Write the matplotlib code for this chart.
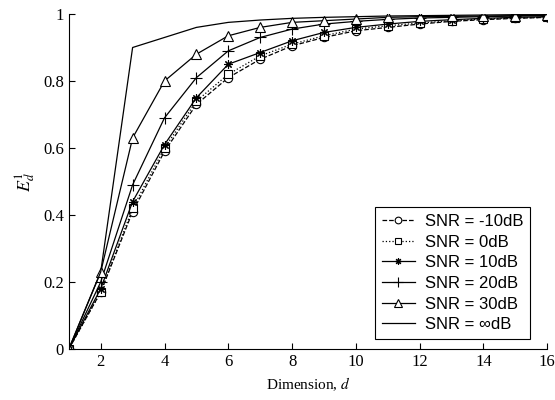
import numpy as np
import matplotlib.pyplot as plt

plt.rcParams['mathtext.fontset'] = 'stix'

# Dimension d
d = np.arange(1, 17)

# E_d^1 for each SNR
snr_m10 = [0.0, 0.17, 0.41, 0.59, 0.73, 0.81, 0.865, 0.905, 0.93, 0.95, 0.96, 0.97, 0.978, 0.983, 0.987, 0.99]
snr_0 = [0.0, 0.17, 0.42, 0.60, 0.74, 0.82, 0.875, 0.91, 0.935, 0.955, 0.965, 0.973, 0.98, 0.985, 0.988, 0.99]
snr_10 = [0.0, 0.18, 0.44, 0.61, 0.75, 0.85, 0.885, 0.92, 0.945, 0.96, 0.97, 0.978, 0.983, 0.987, 0.99, 0.992]
snr_20 = [0.0, 0.20, 0.49, 0.69, 0.81, 0.89, 0.93, 0.955, 0.97, 0.978, 0.984, 0.988, 0.99, 0.992, 0.994, 0.995]
snr_30 = [0.0, 0.23, 0.63, 0.80, 0.88, 0.935, 0.96, 0.975, 0.98, 0.985, 0.99, 0.992, 0.993, 0.994, 0.995, 0.996]
snr_inf = [0.0, 0.23, 0.90, 0.93, 0.96, 0.975, 0.982, 0.987, 0.99, 0.992, 0.994, 0.995, 0.996, 0.997, 0.998, 0.998]

labels = ['SNR = -10dB', 'SNR = 0dB', 'SNR = 10dB', 'SNR = 20dB', 'SNR = 30dB', 'SNR = \u221edB']

fig = plt.figure(figsize=(5.55, 4.0), dpi=100)
ax = fig.add_axes([0.124, 0.1275, 0.862, 0.8375])

lw = 0.9
ms = 6
ax.plot(d, snr_m10, '--', color='black', lw=lw, marker='o', ms=ms, mfc='white', mec='black', mew=0.8, label=labels[0])
ax.plot(d, snr_0, ':', color='black', lw=lw, marker='s', ms=ms, mfc='white', mec='black', mew=0.8, label=labels[1])
ax.plot(d, snr_10, '-', color='black', lw=lw, marker=(8, 2, 0), ms=ms, mec='black', mew=0.8, label=labels[2])
ax.plot(d, snr_20, '-', color='black', lw=lw, marker='+', ms=9, mec='black', mew=0.8, label=labels[3])
ax.plot(d, snr_30, '-', color='black', lw=lw, marker='^', ms=7, mfc='white', mec='black', mew=0.8, label=labels[4])
ax.plot(d, snr_inf, '-', color='black', lw=lw, label=labels[5])

ax.set_xlim(1, 16)
ax.set_ylim(0, 1)
ax.set_xticks([2, 4, 6, 8, 10, 12, 14, 16])
ax.set_yticks([0, 0.2, 0.4, 0.6, 0.8, 1])
ax.set_yticklabels(['0', '0.2', '0.4', '0.6', '0.8', '1'])
ax.tick_params(direction='in', length=4, width=0.8, labelsize=12)
for lab in ax.get_xticklabels() + ax.get_yticklabels():
    lab.set_fontfamily('Liberation Serif')
ax.spines['top'].set_visible(False)
ax.spines['right'].set_visible(False)

ax.set_xlabel('Dimension, $d$', fontsize=11, family='Liberation Serif')
ax.set_ylabel('$E_d^1$', fontsize=13)

leg = ax.legend(loc='lower right', bbox_to_anchor=(0.964, 0.03), borderaxespad=0, fancybox=False,
                framealpha=1, edgecolor='black', prop={'family': 'Liberation Sans', 'size': 12},
                handlelength=2.0, labelspacing=0.34, borderpad=0.4, handletextpad=0.6,
                markerscale=0.8)
leg.get_frame().set_linewidth(0.8)

fig.savefig('out.png', dpi=100)
